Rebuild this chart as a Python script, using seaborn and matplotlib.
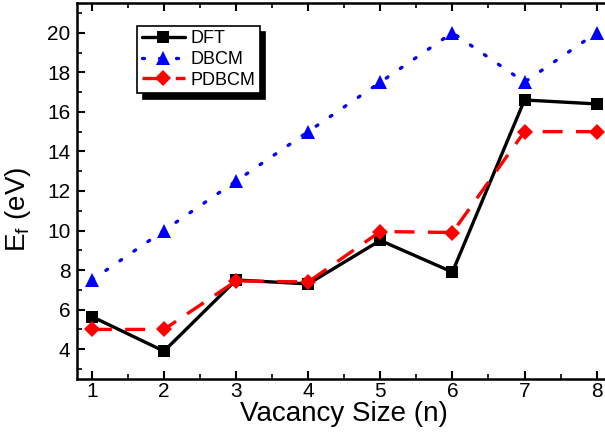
import matplotlib
matplotlib.use("Agg")
import matplotlib.pyplot as plt
import seaborn as sns
from matplotlib.ticker import MultipleLocator
from matplotlib.patches import Shadow

# values
n = [1, 2, 3, 4, 5, 6, 7, 8]
dft = [5.65, 3.9, 7.5, 7.3, 9.5, 7.9, 16.6, 16.4]
dbcm = [7.5, 10.0, 12.5, 15.0, 17.5, 20.0, 17.5, 20.0]
pdbcm = [5.0, 5.0, 7.45, 7.4, 9.95, 9.9, 15.0, 15.0]

sns.set_style("ticks")
plt.rcParams['font.family'] = ['Liberation Sans', 'DejaVu Sans']
plt.rcParams['mathtext.fontset'] = 'custom'
plt.rcParams['mathtext.rm'] = 'Liberation Sans'
plt.rcParams['mathtext.it'] = 'Liberation Sans:italic'
plt.rcParams['text.color'] = 'black'
plt.rcParams['axes.labelcolor'] = 'black'
plt.rcParams['xtick.color'] = 'black'
plt.rcParams['ytick.color'] = 'black'

fig = plt.figure(figsize=(6.05, 4.37), dpi=100)
# right edge of the axes runs just past the image, like the original
ax = fig.add_axes([0.128, 0.133, 0.882, 0.86])

sns.lineplot(x=n, y=dft, ax=ax, color='black', lw=2.4, marker='s',
             markersize=8, markeredgewidth=0, label='DFT')
sns.lineplot(x=n, y=dbcm, ax=ax, color='blue', lw=2.4, marker='^',
             markersize=10, markeredgewidth=0, label='DBCM')
ax.lines[-1].set_dashes([0.6, 4.5])
ax.lines[-1].set_dash_capstyle('round')
sns.lineplot(x=n, y=pdbcm, ax=ax, color='red', lw=2.4, marker='D',
             markersize=8, markeredgewidth=0, label='PDBCM')
ax.lines[-1].set_dashes([6, 4])

ax.set_xlim(0.8, 8.2)
ax.set_ylim(2.5, 21.5)
ax.xaxis.set_major_locator(MultipleLocator(1))
ax.xaxis.set_minor_locator(MultipleLocator(0.5))
ax.yaxis.set_major_locator(MultipleLocator(2))
ax.yaxis.set_minor_locator(MultipleLocator(1))
ax.set_yticks([4, 6, 8, 10, 12, 14, 16, 18, 20])

for s in ax.spines.values():
    s.set_linewidth(1.8)
    s.set_color('black')
ax.spines['right'].set_visible(False)

ax.tick_params(which='major', direction='in', length=6, width=1.5,
               labelsize=15, colors='black', top=False, right=False)
ax.tick_params(which='minor', direction='in', length=3.5, width=1.2,
               top=False, right=False)
ax.tick_params(axis='x', which='major', pad=2)
ax.tick_params(axis='y', which='major', pad=5)
ax.tick_params(axis='x', which='both', top=True)

ax.set_xlabel('Vacancy Size (n)', fontsize=20, labelpad=0)
ax.set_ylabel(r'E$_\mathregular{f}$ (eV)', fontsize=20, labelpad=2)
ax.yaxis.set_label_coords(-0.083, 0.45)

leg = ax.legend(loc='upper left', bbox_to_anchor=(0.112, 0.939), fontsize=13,
                frameon=True, fancybox=False, shadow=False, framealpha=1,
                handlelength=2.4, handletextpad=0.3, borderpad=0.25,
                labelspacing=0.2, borderaxespad=0)
leg.get_frame().set_edgecolor('black')
leg.get_frame().set_facecolor('white')
leg.get_frame().set_linewidth(1.2)
leg.set_zorder(6)

# solid black drop shadow behind the legend box
sh = Shadow(leg.legendPatch, 4, -4.5, color='black', alpha=1)
sh.set_zorder(5.5)
ax.add_artist(sh)

fig.canvas.draw()
fig.savefig('out.png', dpi=100)
